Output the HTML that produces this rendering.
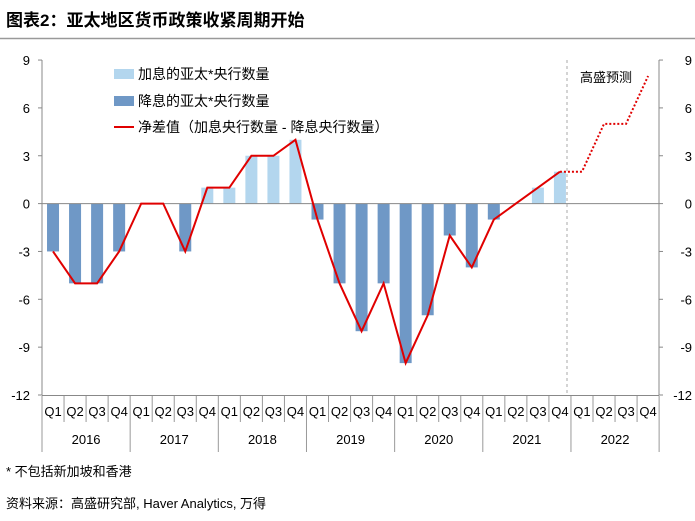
<!DOCTYPE html>
<html><head><meta charset="utf-8"><style>
body{margin:0;background:#fff;}
svg{display:block;font-family:"Liberation Sans","Noto Sans CJK SC",sans-serif;}
</style></head><body>
<svg width="695" height="521" viewBox="0 0 695 521">
<text x="6" y="26" font-size="17" font-weight="bold" fill="#000">图表2：亚太地区货币政策收紧周期开始</text>
<line x1="0" y1="38.5" x2="695" y2="38.5" stroke="#999" stroke-width="1.5"/>
<g id="bars"></g>
<g font-size="13" fill="#000" text-anchor="end" id="yl"></g>
<g font-size="13" fill="#000" text-anchor="end" id="yr"></g>
<line x1="42" y1="60" x2="42" y2="395" stroke="#888"/>
<line x1="659" y1="60" x2="659" y2="395" stroke="#888"/>
<line x1="42" y1="203.6" x2="659" y2="203.6" stroke="#888"/>
<line x1="42" y1="395.5" x2="659" y2="395.5" stroke="#888"/>
<line x1="567" y1="60" x2="567" y2="395" stroke="#aaa" stroke-dasharray="3,3"/>
<text x="580" y="82" font-size="13">高盛预测</text>
<g id="cats" font-size="13" text-anchor="middle"></g>
<polyline id="net" fill="none" stroke="#e00000" stroke-width="2"/>
<polyline id="fc" fill="none" stroke="#e00000" stroke-width="2" stroke-dasharray="2,2"/>
<rect x="114" y="69" width="20" height="10" fill="#b3d6ee"/>
<text x="138" y="79" font-size="14">加息的亚太*央行数量</text>
<rect x="114" y="96" width="20" height="10" fill="#6f98c6"/>
<text x="138" y="106" font-size="14">降息的亚太*央行数量</text>
<line x1="114" y1="127" x2="134" y2="127" stroke="#e00000" stroke-width="2"/>
<text x="138" y="132" font-size="14">净差值（加息央行数量 - 降息央行数量）</text>
<text x="6" y="476" font-size="13">* 不包括新加坡和香港</text>
<text x="6" y="508" font-size="13">资料来源：高盛研究部, Haver Analytics, 万得</text>
</svg>
<script>
const ns="http://www.w3.org/2000/svg";
const y0=203.6,k=15.95,x0=42,w=22.04;
const Y=v=>y0-v*k, X=i=>x0+w*(i+0.5);
const net=[-3,-5,-5,-3,0,0,-3,1,1,3,3,4,-1,-5,-8,-5,-10,-7,-2,-4,-1,0,1,2];
const hike=[0,0,0,0,0,0,0,1,1,3,3,4,0,0,0,0,0,0,0,0,0,0,1,2];
const cut=[-3,-5,-5,-3,0,0,-3,0,0,0,0,0,-1,-5,-8,-5,-10,-7,-2,-4,-1,0,0,0];
function el(t,a,p){const e=document.createElementNS(ns,t);for(const q in a)e.setAttribute(q,a[q]);if(p)p.appendChild(e);return e;}
const B=document.getElementById('bars');
for(let i=0;i<24;i++){
 if(hike[i])el('rect',{x:X(i)-6,y:Y(hike[i]),width:12,height:hike[i]*k,fill:'#b3d6ee'},B);
 if(cut[i])el('rect',{x:X(i)-6,y:y0,width:12,height:-cut[i]*k,fill:'#6f98c6'},B);
}
document.getElementById('net').setAttribute('points',net.map((v,i)=>X(i)+','+Y(v)).join(' '));
const fc=[2,2,5,5,8];
document.getElementById('fc').setAttribute('points',fc.map((v,i)=>X(i+23)+','+Y(v)).join(' '));
const yl=document.getElementById('yl'),yr=document.getElementById('yr');
for(let v=9;v>=-12;v-=3){
 el('line',{x1:38,x2:42,y1:Y(v),y2:Y(v),stroke:'#888'},B);
 el('line',{x1:659,x2:663,y1:Y(v),y2:Y(v),stroke:'#888'},B);
 const t=el('text',{x:30,y:Y(v)+5},yl);t.textContent=v;
 const t2=el('text',{x:692,y:Y(v)+5},yr);t2.textContent=v;
}
const C=document.getElementById('cats');
for(let i=0;i<28;i++){
 const t=el('text',{x:X(i),y:416},C);t.textContent='Q'+(i%4+1);
 el('line',{x1:x0+w*i,x2:x0+w*i,y1:396,y2:i%4==0?452:422,stroke:'#999'},C);
}
el('line',{x1:x0+w*28,x2:x0+w*28,y1:396,y2:452,stroke:'#999'},C);
for(let j=0;j<7;j++){const t=el('text',{x:x0+w*(4*j+2),y:444},C);t.textContent=2016+j;}
</script>
</body></html>
